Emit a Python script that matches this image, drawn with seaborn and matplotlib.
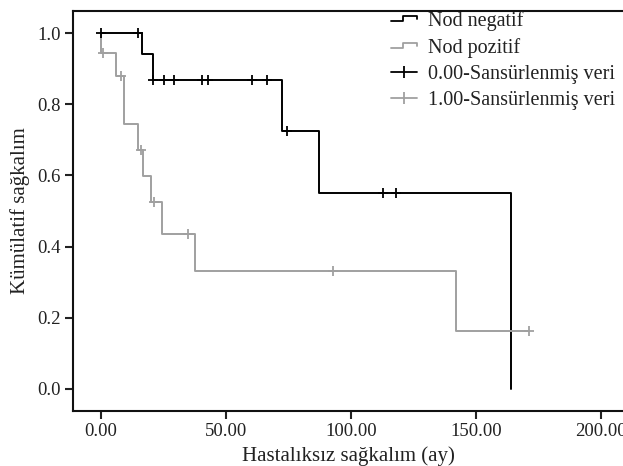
import matplotlib
matplotlib.use("Agg")
import matplotlib.pyplot as plt
import seaborn as sns
import pandas as pd
from matplotlib.lines import Line2D
from matplotlib.legend_handler import HandlerBase

# ---- data ----
neg_time = [0, 16.4, 20.8, 72.3, 87.3, 163.9]
neg_surv = [1.0, 0.941, 0.868, 0.725, 0.55, 0.0]
pos_time = [0, 0, 6.0, 9.2, 14.9, 16.9, 20.0, 24.3, 37.6, 141.9, 171.3]
pos_surv = [1.0, 0.943, 0.879, 0.744, 0.671, 0.599, 0.524, 0.434, 0.331, 0.164, 0.164]
neg_cens_time = [0, 14.7, 20.7, 25.3, 29.3, 40.3, 42.9, 60.3, 66.3, 74.5, 112.9, 117.9]
neg_cens_surv = [1.0, 1.0, 0.868, 0.868, 0.868, 0.868, 0.868, 0.868, 0.868, 0.725, 0.55, 0.55]
pos_cens_time = [0.7, 8.0, 16.0, 21.2, 34.9, 92.9, 171.3]
pos_cens_surv = [0.943, 0.879, 0.671, 0.524, 0.434, 0.331, 0.164]
legend_labels = ["Nod negatif", "Nod pozitif", "0.00-Sansürlenmiş veri", "1.00-Sansürlenmiş veri"]
x_ticks = [0, 50, 100, 150, 200]
y_ticks = [0.0, 0.2, 0.4, 0.6, 0.8, 1.0]

sns.set_style("ticks")
plt.rcParams['font.family'] = ['Liberation Serif', 'DejaVu Serif']

BLACK = "#000000"
GRAY = "#a0a0a0"
LW = 1.4

fig = plt.figure(figsize=(6.23, 4.66), dpi=100)
ax = fig.add_axes([73/623, 55/466, 1 - 73/623, 400/466])

neg_df = pd.DataFrame({"t": neg_time, "s": neg_surv})
pos_df = pd.DataFrame({"t": pos_time, "s": pos_surv})
sns.lineplot(data=neg_df, x="t", y="s", estimator=None, sort=False,
             drawstyle="steps-post", color=BLACK, linewidth=LW, ax=ax)
sns.lineplot(data=pos_df, x="t", y="s", estimator=None, sort=False,
             drawstyle="steps-post", color=GRAY, linewidth=LW, ax=ax)
sns.scatterplot(x=neg_cens_time, y=neg_cens_surv, marker="+", s=55,
                color=BLACK, linewidth=1.3, ax=ax, zorder=5)
sns.scatterplot(x=pos_cens_time, y=pos_cens_surv, marker="+", s=55,
                color=GRAY, linewidth=1.3, ax=ax, zorder=5)

ax.set_xlim(-11.2, 208.8)
ax.set_ylim(-0.062, 1.062)
ax.set_xticks(x_ticks)
ax.set_xticklabels([f"{v:.2f}" for v in x_ticks])
ax.set_yticks(y_ticks)
ax.set_yticklabels([f"{v:.1f}" for v in y_ticks])
ax.tick_params(direction="out", length=6, width=1.5, labelsize=13.5, colors="#222222", pad=3)
for side in ["left", "bottom", "top"]:
    ax.spines[side].set_visible(True)
    ax.spines[side].set_color("#111111")
    ax.spines[side].set_linewidth(1.5)
ax.spines["right"].set_visible(False)
ax.set_xlabel("Hastalıksız sağkalım (ay)", fontsize=15, color="#222222", labelpad=4)
ax.set_ylabel("Kümülatif sağkalım", fontsize=15, color="#222222", labelpad=5)


class StepHandler(HandlerBase):
    def create_artists(self, legend, orig_handle, xdescent, ydescent,
                       width, height, fontsize, trans):
        x0 = -xdescent
        lo = -ydescent + height * 0.38
        hi = -ydescent + height * 0.68
        mid = -ydescent + height * 0.52
        xs = [x0, x0 + width * 0.45, x0 + width * 0.45, x0 + width, x0 + width]
        ys = [lo, lo, hi, hi, mid]
        ln = Line2D(xs, ys, color=orig_handle.get_color(), linewidth=1.3, transform=trans)
        return [ln]


class CensHandler(HandlerBase):
    def create_artists(self, legend, orig_handle, xdescent, ydescent,
                       width, height, fontsize, trans):
        x0 = -xdescent
        y = -ydescent + height * 0.5
        ln = Line2D([x0, x0 + width], [y, y], color=orig_handle.get_color(),
                    linewidth=1.3, transform=trans)
        mk = Line2D([x0 + width / 2], [y], marker="|", markersize=8, markeredgewidth=1.3,
                    color=orig_handle.get_color(), transform=trans, linestyle="")
        return [ln, mk]


h1 = Line2D([], [], color=BLACK)
h2 = Line2D([], [], color=GRAY)
h3 = Line2D([], [], color=BLACK, marker="+")
h4 = Line2D([], [], color=GRAY, marker="+")
leg = fig.legend([h1, h2, h3, h4], legend_labels, loc="upper left",
                 bbox_to_anchor=(391/623, 1 - 11/466), frameon=False,
                 fontsize=14.5, handlelength=1.3, handletextpad=0.55,
                 labelspacing=0.35, borderaxespad=0, borderpad=0,
                 handler_map={h1: StepHandler(), h2: StepHandler(),
                              h3: CensHandler(), h4: CensHandler()})
for t in leg.get_texts():
    t.set_color("#222222")

fig.savefig("out.png", dpi=100)
